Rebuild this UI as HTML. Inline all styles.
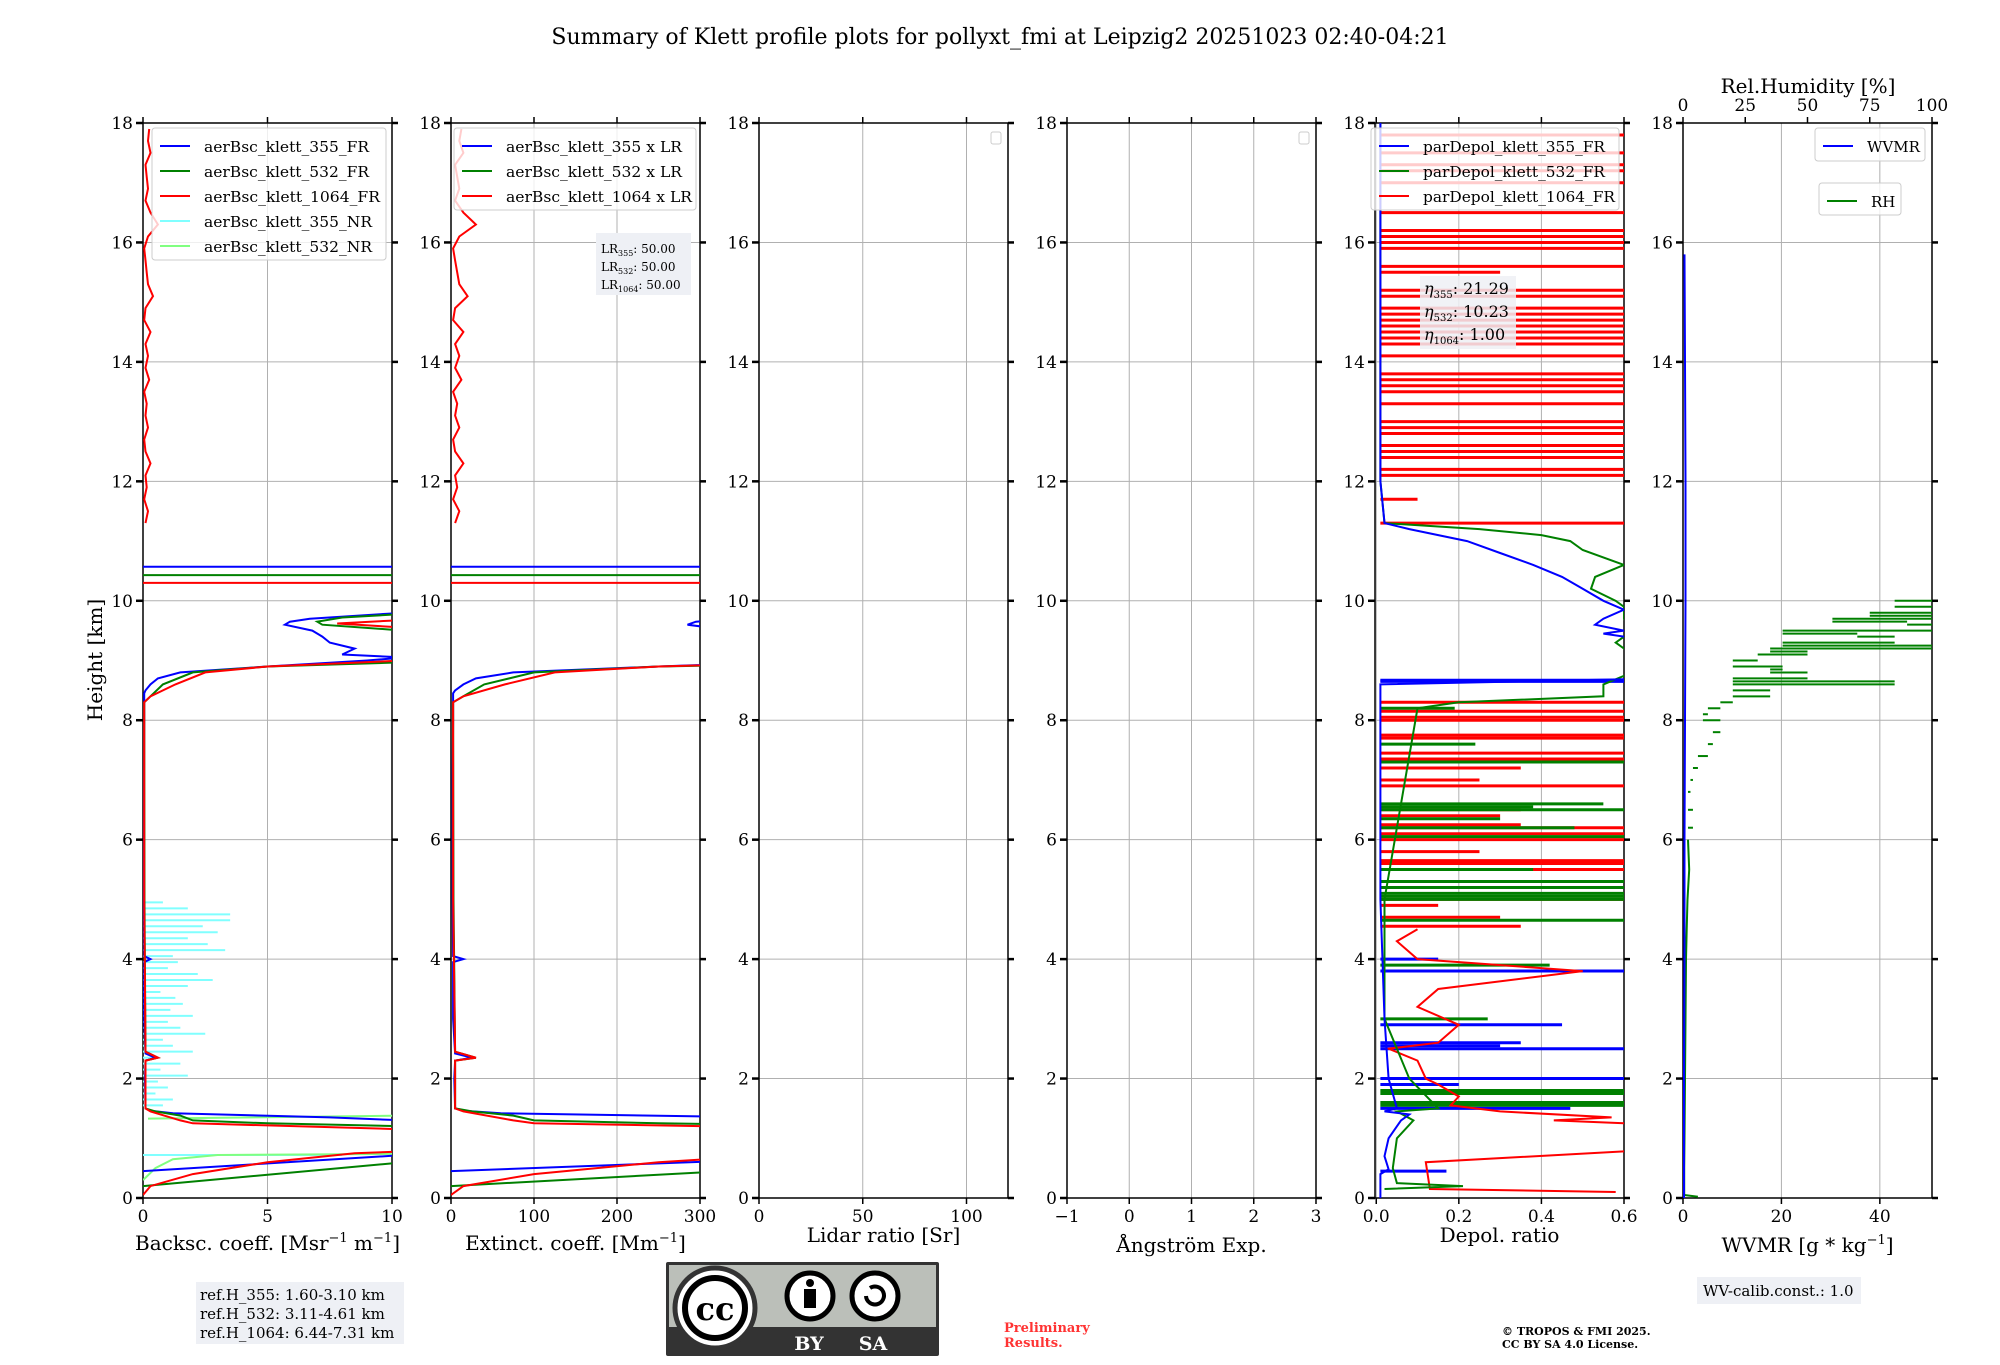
<!DOCTYPE html>
<html><head><meta charset="utf-8">
<style>
html,body{margin:0;padding:0;background:#fff;}
svg text{font-family:"DejaVu Serif","Liberation Serif",serif;}
</style></head>
<body>
<svg id="fig" width="2000" height="1360" viewBox="0 0 2000 1360" xmlns="http://www.w3.org/2000/svg">
<text x="1000" y="44" font-size="22" text-anchor="middle">Summary of Klett profile plots for pollyxt_fmi at Leipzig2 20251023 02:40-04:21</text>
<text x="0" y="0" font-size="20" text-anchor="middle" transform="translate(102,660) rotate(-90)">Height [km]</text>
<g id="panels"></g>
<g>
<rect x="196" y="1282" width="208" height="62" fill="#eef0f5"/>
<text x="200" y="1300" font-size="15">ref.H_355: 1.60-3.10 km</text>
<text x="200" y="1319" font-size="15">ref.H_532: 3.11-4.61 km</text>
<text x="200" y="1338" font-size="15">ref.H_1064: 6.44-7.31 km</text>
</g>
<g>
<rect x="666" y="1262" width="273" height="94" fill="#333" rx="2"/>
<rect x="669" y="1265" width="267" height="62" fill="#bbbfb9"/>
<circle cx="715" cy="1308" r="40" fill="#fff" stroke="#333" stroke-width="5"/>
<circle cx="715" cy="1308" r="30" fill="#fff" stroke="#000" stroke-width="6"/>
<text x="715" y="1320" font-size="32" font-weight="bold" text-anchor="middle" font-family="Liberation Sans,sans-serif">cc</text>
<circle cx="810" cy="1296" r="23" fill="#fff" stroke="#000" stroke-width="5"/>
<circle cx="810" cy="1283" r="4" fill="#000"/><rect x="804" y="1289" width="12" height="19" fill="#000"/>
<circle cx="875" cy="1296" r="23" fill="#fff" stroke="#000" stroke-width="5"/>
<path d="M866 1296 a9 9 0 1 0 4 -8" fill="none" stroke="#000" stroke-width="4"/>
<text x="809" y="1350" font-size="19" font-weight="bold" fill="#fff" text-anchor="middle" font-family="Liberation Sans,sans-serif">BY</text>
<text x="873" y="1350" font-size="19" font-weight="bold" fill="#fff" text-anchor="middle" font-family="Liberation Sans,sans-serif">SA</text>
</g>
<text x="1004" y="1332" font-size="13" fill="#ff3333" font-weight="bold">Preliminary</text>
<text x="1004" y="1347" font-size="13" fill="#ff3333" font-weight="bold">Results.</text>
<text x="1502" y="1335" font-size="11" font-weight="bold">© TROPOS &amp; FMI 2025.</text>
<text x="1502" y="1348" font-size="11" font-weight="bold">CC BY SA 4.0 License.</text>
<g>
<rect x="1697" y="1277" width="164" height="27" fill="#eef0f5"/>
<text x="1703" y="1296" font-size="15">WV-calib.const.: 1.0</text>
</g>
</svg>
<script>
// ---------------- data ----------------
const bsc355H = [0.45,0.72,null,1.3,1.35,1.42,1.46,1.5,2.0,2.3,2.35,2.42,3.0,3.95,4.0,4.05,5,6,7,8,8.45,8.5,8.6,8.7,8.8,8.9,9.0,9.05,9.1,9.2,9.3,9.4,9.5,9.6,9.65,9.7,9.8,10.57,10.57];
const bsc355V = [0,10.5,null,10.5,7.5,1.2,0.3,0.1,0.08,0.1,0.5,0.1,0.05,0.05,0.3,0.05,0.04,0.04,0.04,0.05,0.05,0.1,0.3,0.6,1.5,5,9,10.5,8,8.5,7.5,7.2,6.8,5.7,5.9,6.7,10.5,60,-60];
const bsc532H = [0.2,0.6,null,1.2,1.25,1.3,1.38,1.45,1.5,2.3,2.35,2.45,5,8.3,8.4,8.6,8.8,8.9,8.97,9.5,9.6,9.65,9.72,9.78,10.43,10.43];
const bsc532V = [0,10.5,null,10.5,5,2.0,1.5,0.5,0.1,0.1,0.6,0.1,0.06,0.05,0.3,0.8,2.0,5,10.5,10.5,7.2,7.0,8,10.5,60,-60];
const bsc1064H = [0.05,0.2,0.4,0.6,0.75,0.78,null,1.15,1.25,1.3,1.45,1.5,2.3,2.35,2.45,5,8.3,8.4,8.6,8.8,8.9,9.0,9.55,9.62,9.68,10.3,10.3];
const bsc1064V = [0,0.3,2,5,8.5,10.5,null,10.5,2,1.5,0.3,0.1,0.1,0.6,0.1,0.05,0.05,0.3,1.3,2.5,5,10.5,10.5,7.8,10.5,60,-60];
const noise1064Start = 11.3, noise1064Step = 0.2;
const noise1064V = [0.1,0.2,0.05,0.15,0.1,0.3,0.1,0.05,0.2,0.1,0.15,0.05,0.25,0.1,0.2,0.1,0.3,0.05,0.1,0.4,0.2,0.15,0.1,0.05,0.2,0.6,0.3,0.1,0.2,0.15,0.1,0.3,0.2,0.25];
const nr355H = [0.72,1.55,1.65,1.75,1.85,1.95,2.05,2.15,2.25,2.35,2.45,2.55,2.65,2.75,2.85,2.95,3.05,3.15,3.25,3.35,3.45,3.55,3.65,3.75,3.85,3.95,4.05,4.15,4.25,4.35,4.45,4.55,4.65,4.75,4.85,4.95];
const nr355V = [8,0.8,1.2,0.5,1.0,0.6,1.8,0.7,1.5,0.4,2.0,1.2,0.8,2.5,1.5,1.0,2.0,1.1,1.6,1.3,0.7,1.8,2.8,2.2,1.0,1.4,1.2,3.3,2.6,1.8,3.0,2.4,3.5,3.5,1.8,0.8];
const nr532H = [0.3,0.5,0.65,0.72,0.74,null,1.33,1.38];
const nr532V = [0,0.5,1.2,3,10.5,null,0.2,10.5];
const lidarRatio = 50;
const dep355H = [0,0.4,0.48,0.7,1.0,1.2,1.3,1.4,1.45,1.5,2.0,3.0,5,7,8.6,8.7,9.3,9.45,9.5,9.6,9.7,9.85,10.0,10.2,10.4,10.6,10.8,11.0,11.2,11.3,12,14,16,18];
const dep355V = [0.01,0.01,0.03,0.02,0.03,0.05,0.06,0.08,0.02,0.05,0.03,0.02,0.01,0.01,0.01,0.7,0.7,0.55,0.6,0.53,0.55,0.6,0.55,0.5,0.45,0.38,0.3,0.22,0.08,0.02,0.01,0.01,0.01,0.01];
const dep532H = [0.15,0.2,0.25,0.5,1.0,1.3,1.45,1.5,2.0,3,5,8.2,8.3,8.4,8.6,8.8,9.1,9.3,9.5,9.7,9.9,10.0,10.2,10.4,10.6,10.85,11.0,11.1,11.2,11.3,12,14,16,18];
const dep532V = [0.02,0.21,0.05,0.04,0.05,0.09,0.05,0.15,0.08,0.02,0.02,0.1,0.2,0.55,0.55,0.62,0.62,0.58,0.62,0.6,0.6,0.58,0.52,0.53,0.6,0.5,0.47,0.4,0.25,0.02,0.01,0.01,0.01,0.01];
const dep1064H = [0.1,0.15,0.6,0.8,1.2,1.25,1.3,1.35,1.45,1.55,1.7,1.9,2.0,2.3,2.5,2.6,2.9,3.2,3.5,3.8,4.0,4.3,4.5];
const dep1064V = [0.58,0.13,0.12,0.65,0.65,0.6,0.43,0.57,0.3,0.18,0.2,0.15,0.12,0.1,0.03,0.15,0.2,0.1,0.15,0.5,0.1,0.05,0.1];
const spk1064H = [4.55,4.7,4.9,5.0,5.5,5.6,5.65,5.8,6.0,6.1,6.2,6.25,6.4,6.5,6.9,7.0,7.2,7.3,7.35,7.45,7.7,7.75,8.0,8.05,8.15,8.3,11.3,11.7,12.1,12.2,12.4,12.5,12.6,12.8,12.9,13.0,13.3,13.5,13.6,13.7,13.8,14.1,14.3,14.4,14.5,14.6,14.7,14.8,14.9,15.1,15.2,15.5,15.6,15.9,16.0,16.1,16.2,16.5,17.0,17.2,17.3,17.5,17.8];
const spk1064V = [0.35,0.3,0.15,0.6,0.6,0.6,0.6,0.25,0.6,0.6,0.6,0.35,0.3,0.35,0.6,0.25,0.35,0.6,0.6,0.6,0.6,0.6,0.6,0.6,0.6,0.6,0.6,0.1,0.6,0.6,0.6,0.6,0.6,0.6,0.6,0.6,0.6,0.6,0.6,0.6,0.6,0.6,0.6,0.6,0.6,0.6,0.6,0.6,0.6,0.6,0.6,0.3,0.6,0.6,0.6,0.6,0.6,0.6,0.6,0.6,0.6,0.6,0.6];
const spk532H = [1.55,1.6,1.75,1.8,3.0,3.9,4.65,5.0,5.05,5.1,5.2,5.3,5.5,6.05,6.2,6.35,6.5,6.55,6.6,7.3,7.6,8.2];
const spk532V = [0.6,0.6,0.6,0.6,0.27,0.42,0.6,0.6,0.6,0.6,0.6,0.6,0.38,0.6,0.48,0.3,0.6,0.38,0.55,0.6,0.24,0.19];
const spk355H = [0.45,1.5,1.9,2.0,2.5,2.55,2.6,2.9,3.8,4.0,8.65,8.67];
const spk355V = [0.17,0.47,0.2,0.6,0.6,0.3,0.35,0.45,0.6,0.15,0.6,0.6];
const rhH = [6.0,6.2,6.5,6.8,7.0,7.2,7.4,7.6,7.8,8.0,8.1,8.2,8.3,8.4,8.5,8.6,8.65,8.7,8.8,8.85,8.9,9.0,9.1,9.15,9.2,9.25,9.3,9.4,9.45,9.5,9.6,9.65,9.7,9.75,9.8,9.9,10.0];
const rhV = [2,4,2,3,4,6,10,12,15,8,10,15,20,35,20,85,20,50,35,40,20,30,50,35,100,40,85,70,40,100,90,60,100,75,100,85,100];
const rhLowH = [0.02,0.05,0.5,1,2,3,4,4.5,5,5.5,6];
const rhLowV = [6,0.5,0.5,0.6,0.8,1,1.2,1.5,1.8,2.5,2];
const wvH = [0,2,4,6,8,10,12,14,15.8];
const wvV = [0.2,0.2,0.3,0.3,0.4,0.5,0.5,0.4,0.3];

// ---------------- layout ----------------
const NS = "http://www.w3.org/2000/svg";
const TOP = 123, BOT = 1198, PW = 249;
const lefts = [143,451,759,1067,1375,1683];
const xr = [[0,10],[0,300],[0,120],[-1,3],[-0.003,0.6],[0,50.6]];
const xticks = [[0,5,10],[0,100,200,300],[0,50,100],[-1,0,1,2,3],[0,0.2,0.4,0.6],[0,20,40]];
const xtickLabels = [["0","5","10"],["0","100","200","300"],["0","50","100"],["\u22121","0","1","2","3"],["0.0","0.2","0.4","0.6"],["0","20","40"]];
const yticks = [0,2,4,6,8,10,12,14,16,18];
const root = document.getElementById('panels');
function yS(h){return BOT - (h/18)*(BOT-TOP);}
function xS(p,v){return lefts[p] + (v-xr[p][0])/(xr[p][1]-xr[p][0])*PW;}
function mk(tag, attrs, parent){const e=document.createElementNS(NS,tag);for(const k in attrs)e.setAttribute(k,attrs[k]);(parent||root).appendChild(e);return e;}

for(let p=0;p<6;p++){
  const L=lefts[p];
  const g = mk('g',{});
  
  
  const cp = mk('clipPath',{id:'cp'+p},g); mk('rect',{x:L,y:TOP,width:PW,height:BOT-TOP},cp);
  for(const t of xticks[p]){const x=xS(p,t); mk('line',{x1:x,x2:x,y1:TOP,y2:BOT,stroke:'#b0b0b0','stroke-width':1},g);}
  for(const t of yticks){const y=yS(t); mk('line',{x1:L,x2:L+PW,y1:y,y2:y,stroke:'#b0b0b0','stroke-width':1},g);}
  for(const t of yticks){const y=yS(t);
    mk('line',{x1:L-7,x2:L,y1:y,y2:y,stroke:'#000','stroke-width':2.5},g);
    mk('line',{x1:L+PW,x2:L+PW+6,y1:y,y2:y,stroke:'#000','stroke-width':2.5},g);
    const tx=mk('text',{x:L-10,y:y+6,'font-size':17,'text-anchor':'end'},g); tx.textContent=t;
    
    
  }
  xticks[p].forEach((t,i)=>{const x=xS(p,t);
    mk('line',{x1:x,x2:x,y1:BOT,y2:BOT+6,stroke:'#000','stroke-width':1.5},g);
    if(p!==5) mk('line',{x1:x,x2:x,y1:TOP-6,y2:TOP,stroke:'#000','stroke-width':1.5},g);
    const tx=mk('text',{x:x,y:BOT+24,'font-size':17,'text-anchor':'middle'},g); tx.textContent=xtickLabels[p][i];
    
    
  });
  if(p===5){for(const t of [0,25,50,75,100]){const x=L+t/100*PW; mk('line',{x1:x,x2:x,y1:TOP-6,y2:TOP,stroke:'#000','stroke-width':1.5},g);}}
  mk('rect',{x:L,y:TOP,width:PW,height:BOT-TOP,fill:'none',stroke:'#000','stroke-width':1.5},g);
}
const xlabels = [["Backsc. coeff. [Msr",'\u22121'," m",'\u22121',"]"],["Extinct. coeff. [Mm",'\u22121',"]"],["Lidar ratio [Sr]"],["Ångström Exp."],["Depol. ratio"],["WVMR [g * kg",'\u22121',"]"]];
const xlabY=[1250,1250,1242,1252,1242,1252];
xlabels.forEach((parts,p)=>{
  const t=mk('text',{x:lefts[p]+PW/2,y:xlabY[p],'font-size':20,'text-anchor':'middle'});
  
  
  parts.forEach((s,i)=>{const ts=mk('tspan',{},t); ts.textContent=s; if(s==='\u22121'){ts.setAttribute('font-size','13');ts.setAttribute('dy','-8');} else if(i>0 && parts[i-1]==='\u22121'){ts.setAttribute('dy','8');}});
});
for(const t of [0,25,50,75,100]){const x=lefts[5]+t/100*PW; const tx=mk('text',{x:x,y:111,'font-size':17,'text-anchor':'middle'}); tx.textContent=t;
  
  }
{const t=mk('text',{x:1808,y:93,'font-size':20,'text-anchor':'middle'});t.textContent='Rel.Humidity [%]';
 
 }

// ---------------- marks ----------------
function line(p,H,V,color,w,name,scale,xp){
  scale=scale||1;
  let segs=[],cur=[];
  for(let i=0;i<H.length;i++){ if(H[i]===null||V[i]===null){ if(cur.length)segs.push(cur);cur=[];continue;}
    const x = xp!==undefined ? xp(V[i]*scale) : xS(p,V[i]*scale);
    cur.push(x.toFixed(1)+','+yS(H[i]).toFixed(1)); }
  if(cur.length)segs.push(cur);
  for(const s of segs){
    const pl=mk('polyline',{points:s.join(' '),fill:'none',stroke:color,'stroke-width':w,'clip-path':'url(#cp'+p+')'});
    
    
  }
}
function spikes(p,H,V,color,w,name,base){
  for(let i=0;i<H.length;i++){
    const l=mk('line',{x1:xS(p,base),x2:xS(p,V[i]),y1:yS(H[i]),y2:yS(H[i]),stroke:color,'stroke-width':w,'clip-path':'url(#cp'+p+')'});
    
    
  }
}
function steps(p,H,V,color,w,name,xp){
  for(let i=1;i<H.length;i++){
    const y=yS(H[i]);
    const l=mk('line',{x1:xp(V[i-1]),x2:xp(V[i]),y1:y,y2:y,stroke:color,'stroke-width':w,'clip-path':'url(#cp'+p+')'});
    
    
  }
}
const noise1064H = noise1064V.map((v,i)=>noise1064Start+i*noise1064Step);
spikes(0,nr355H,nr355V,'#80ffff',2,'bsc-355-nr-spike',0);
line(0,nr532H,nr532V,'#80ff80',2,'bsc-532-nr-line');
line(0,bsc355H,bsc355V,'#0000ff',2,'bsc-355-fr-line');
line(0,bsc532H,bsc532V,'#008000',2,'bsc-532-fr-line');
line(0,bsc1064H,bsc1064V,'#ff0000',2,'bsc-1064-fr-line');
line(0,noise1064H,noise1064V,'#ff0000',2,'bsc-1064-fr-noise');
line(1,bsc355H,bsc355V,'#0000ff',2,'ext-355-line',lidarRatio);
line(1,bsc532H,bsc532V,'#008000',2,'ext-532-line',lidarRatio);
line(1,bsc1064H,bsc1064V,'#ff0000',2,'ext-1064-line',lidarRatio);
line(1,noise1064H,noise1064V,'#ff0000',2,'ext-1064-noise',lidarRatio);
spikes(4,spk1064H,spk1064V,'#ff0000',3,'depol-1064-spike',0.01);
spikes(4,spk532H,spk532V,'#008000',3,'depol-532-spike',0.01);
spikes(4,spk355H,spk355V,'#0000ff',3,'depol-355-spike',0.01);
line(4,dep1064H,dep1064V,'#ff0000',2,'depol-1064-line');
line(4,dep532H,dep532V,'#008000',2,'depol-532-line');
line(4,dep355H,dep355V,'#0000ff',2,'depol-355-line');
const rhX = v=>lefts[5]+v/100*PW;
steps(5,rhH,rhV,'#008000',2,'rh-step',rhX);
line(5,rhLowH,rhLowV,'#008000',2,'rh-low-line',1,rhX);
line(5,wvH,wvV,'#0000ff',2,'wvmr-line');

// ---------------- legends ----------------
function legend(x,y,w,h,items,name,fs){
  const g=mk('g',{});
  
  
  mk('rect',{x:x,y:y,width:w,height:h,fill:'#fff','fill-opacity':0.8,stroke:'#ccc','stroke-width':1,rx:3},g);
  items.forEach((it,i)=>{const yy=y+18+i*25;
    mk('line',{x1:x+8,x2:x+38,y1:yy,y2:yy,stroke:it[1],'stroke-width':2},g);
    const t=mk('text',{x:x+52,y:yy+6,'font-size':fs||15},g); t.textContent=it[0];
    if(it[2]){t.setAttribute('textLength',it[2]);t.setAttribute('lengthAdjust','spacingAndGlyphs');}
    
    
  });
}
legend(152,128,234,132,[['aerBsc_klett_355_FR','#0000ff',165],['aerBsc_klett_532_FR','#008000',165],['aerBsc_klett_1064_FR','#ff0000',176],['aerBsc_klett_355_NR','#80ffff',168],['aerBsc_klett_532_NR','#80ff80',168]],'legend-backscatter');
legend(454,128,242,82,[['aerBsc_klett_355 x LR','#0000ff',176],['aerBsc_klett_532 x LR','#008000',176],['aerBsc_klett_1064 x LR','#ff0000',186]],'legend-extinction');
legend(1371,128,248,82,[['parDepol_klett_355_FR','#0000ff',182],['parDepol_klett_532_FR','#008000',182],['parDepol_klett_1064_FR','#ff0000',192]],'legend-depol');
legend(1815,128,110,33,[['WVMR','#0000ff']],'legend-wvmr');
legend(1819,183,82,32,[['RH','#008000']],'legend-rh');
{const r=mk('rect',{x:991,y:132,width:10,height:12,fill:'#fff',stroke:'#ccc',rx:2});
 
 }
{const r=mk('rect',{x:1299,y:132,width:10,height:12,fill:'#fff',stroke:'#ccc',rx:2});
 
 }
{const g=mk('g',{});
 
 
 mk('rect',{x:596,y:233,width:95,height:62,fill:'#eef0f5'},g);
 [['355','50.00',253],['532','50.00',271],['1064','50.00',289]].forEach(r=>{const t=mk('text',{x:601,y:r[2],'font-size':12},g);
   t.innerHTML='LR<tspan font-size="8" dy="3">'+r[0]+'</tspan><tspan dy="-3">: '+r[1]+'</tspan>';});}
{const g=mk('g',{});
 
 
 mk('rect',{x:1420,y:276,width:96,height:73,fill:'#eef0f5','fill-opacity':0.85},g);
 [['355','21.29',294],['532','10.23',317],['1064','1.00',340]].forEach(r=>{const t=mk('text',{x:1424,y:r[2],'font-size':16},g);
   t.innerHTML='<tspan font-style="italic">η</tspan><tspan font-size="10" dy="4">'+r[0]+'</tspan><tspan dy="-4">: '+r[1]+'</tspan>';});}
</script>
</body></html>
